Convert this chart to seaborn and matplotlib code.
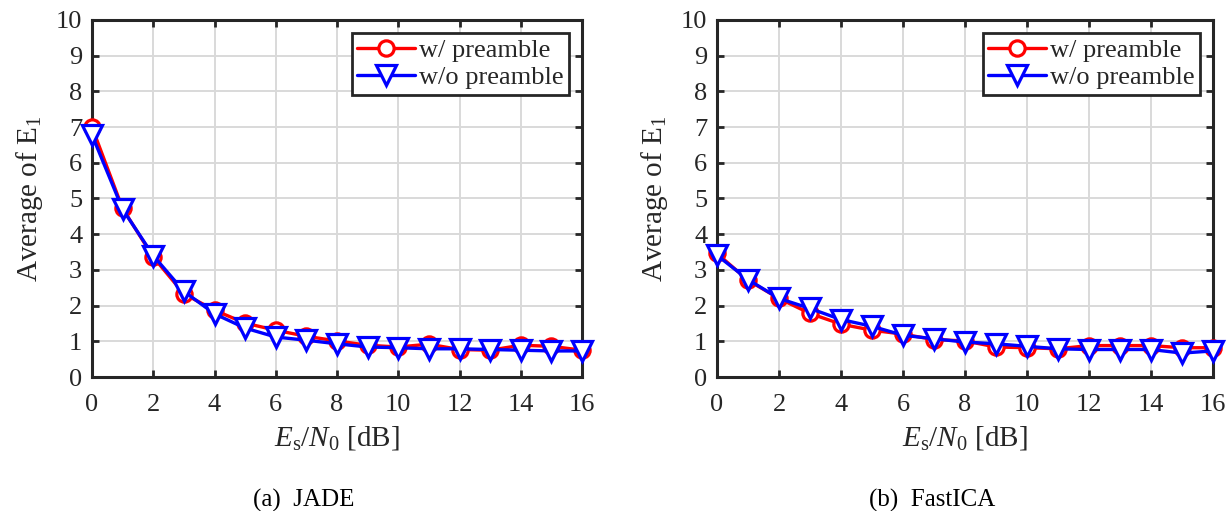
import numpy as np
import pandas as pd
import matplotlib
matplotlib.use("Agg")
import matplotlib.pyplot as plt
import seaborn as sns

# ---- data ----
snr_db = list(range(0, 17))
jade_with = [7.00, 4.72, 3.36, 2.33, 1.87, 1.51, 1.31, 1.14, 1.01, 0.89, 0.84, 0.92, 0.77, 0.75, 0.89, 0.86, 0.75]
jade_without = [6.78, 4.70, 3.40, 2.40, 1.77, 1.37, 1.12, 1.03, 0.93, 0.84, 0.82, 0.79, 0.79, 0.77, 0.75, 0.73, 0.73]
fica_with = [3.46, 2.71, 2.20, 1.78, 1.48, 1.31, 1.20, 1.05, 1.01, 0.84, 0.82, 0.79, 0.88, 0.88, 0.88, 0.82, 0.82]
fica_without = [3.41, 2.73, 2.20, 1.92, 1.61, 1.42, 1.17, 1.07, 0.98, 0.93, 0.86, 0.79, 0.77, 0.77, 0.77, 0.67, 0.73]
series_labels = ["w/ preamble", "w/o preamble"]
captions = ["(a)  JADE", "(b)  FastICA"]
x_ticks = list(range(0, 17, 2))
y_ticks = list(range(0, 11))

sns.set_theme(style="white")
plt.rcParams["font.family"] = ["Liberation Serif", "DejaVu Serif"]
plt.rcParams["mathtext.fontset"] = "custom"
plt.rcParams["mathtext.rm"] = "Liberation Serif"
plt.rcParams["mathtext.it"] = "Liberation Serif:italic"
plt.rcParams["mathtext.bf"] = "Liberation Serif:bold"

fig = plt.figure(figsize=(12.28, 5.11), dpi=100)
W, H = 1228, 511
boxes = [(92, 20, 582, 377), (717, 20, 1213, 377)]
axes = []
for (l, t, r, b) in boxes:
    axes.append(fig.add_axes([l / W, 1 - b / H, (r - l) / W, (b - t) / H]))

datasets = [(jade_with, jade_without), (fica_with, fica_without)]
styles = [dict(color="#ff0000", marker="o", ms=11),
          dict(color="#0000ff", marker="v", ms=15)]

FS = 19
for ax, (d1, d2), cap, (l, t, r, b) in zip(axes, datasets, captions, boxes):
    for vals, lab, st in zip((d1, d2), series_labels, styles):
        df = pd.DataFrame({"snr": snr_db, "val": vals})
        sns.lineplot(data=df, x="snr", y="val", ax=ax, color=st["color"],
                     marker=st["marker"], markersize=st["ms"],
                     markerfacecolor="white", markeredgecolor=st["color"],
                     markeredgewidth=2.3, linewidth=2.4, label=lab,
                     clip_on=False, zorder=3)
    ax.set_xlim(0, 16)
    ax.set_ylim(0, 10)
    ax.set_xticks(x_ticks)
    ax.set_yticks(y_ticks)
    ax.grid(True, color="#d9d9d9", linewidth=1.4)
    ax.set_axisbelow(True)
    for s in ax.spines.values():
        s.set_color("#262626")
        s.set_linewidth(2.2)
        s.set_visible(True)
    ax.tick_params(direction="in", length=5, width=2.0, colors="#262626",
                   labelsize=FS, labelcolor="#262626", top=True, right=True,
                   left=True, bottom=True)
    ax.tick_params(axis="x", pad=12)
    ax.tick_params(axis="y", pad=7)
    ax.set_xlabel(r"$E_\mathrm{s}/N_0$ [dB]", fontsize=21, color="#262626", labelpad=6)
    ax.set_ylabel(r"Average of $\mathrm{E}_1$", fontsize=21, color="#262626", labelpad=8)
    leg = ax.legend(loc="upper right", fontsize=19, frameon=True, fancybox=False,
                    edgecolor="#262626", framealpha=1, borderaxespad=0.5,
                    handlelength=2.2, handletextpad=0.15, borderpad=0.2,
                    labelspacing=0.15)
    leg.get_frame().set_linewidth(2.0)
    cx = ((l + r) / 2 - 33) / W
    fig.text(cx, 1 - 500 / H, cap, ha="center", va="center", fontsize=18, color="black")

fig.savefig("out.png", dpi=100)
